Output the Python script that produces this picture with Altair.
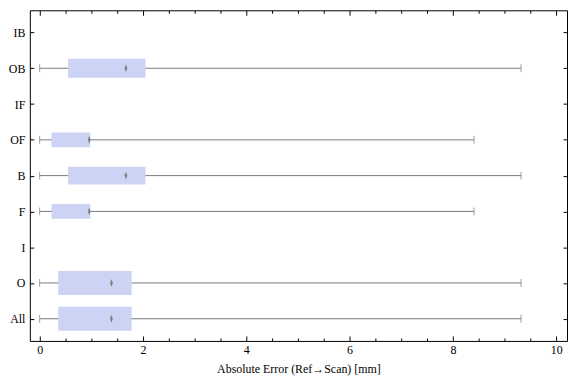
import altair as alt
import pandas as pd

# ---- data ----
categories = ["IB", "OB", "IF", "OF", "B", "F", "I", "O", "All"]
groups     = ["OB", "OF", "B", "F", "O", "All"]
mins       = [0.0, 0.0, 0.0, 0.0, 0.0, 0.0]
q1s        = [0.55, 0.23, 0.55, 0.23, 0.36, 0.36]
medians    = [1.67, 0.96, 1.67, 0.96, 1.39, 1.39]
q3s        = [2.05, 0.98, 2.05, 0.98, 1.78, 1.78]
maxs       = [9.32, 8.41, 9.32, 8.41, 9.32, 9.32]
major_ticks = [0, 2, 4, 6, 8, 10]
minor_ticks = [0.5, 1, 1.5, 2.5, 3, 3.5, 4.5, 5, 5.5, 6.5, 7, 7.5, 8.5, 9, 9.5]

# ---- styling ----
box_thickness = {"OB": 19, "OF": 15, "B": 18, "F": 15, "O": 24, "All": 24}
FONT = "Liberation Serif"
BOX = "#ccd3f5"
GRAY = "#7a7a7a"

df = pd.DataFrame({
    "cat": groups, "lo": mins, "q1": q1s, "med": medians, "q3": q3s, "hi": maxs,
})
df["th"] = df["cat"].map(box_thickness)

xscale = alt.Scale(domain=[-0.19, 10.21], nice=False, zero=False)
yscale = alt.Scale(type="point", domain=categories, padding=0.62)

def xax(**kw):
    base = dict(labels=False, domain=False, grid=False, title=None, tickColor="#000")
    base.update(kw)
    return alt.Axis(**base)

def yax(**kw):
    base = dict(labels=False, domain=False, grid=False, title=None, tickColor="#000")
    base.update(kw)
    return alt.Axis(**base)

base = alt.Chart(df)

whisker = base.mark_rule(color=GRAY, strokeWidth=1).encode(
    x=alt.X("lo:Q", scale=xscale,
            axis=alt.Axis(orient="bottom", values=major_ticks, ticks=False, domain=False,
                          grid=False, labelFont=FONT, labelFontSize=12, labelColor="#000",
                          labelPadding=4, title="Absolute Error (Ref\u2192Scan) [mm]",
                          titleFont=FONT, titleFontSize=12, titleFontWeight="normal",
                          titleColor="#000", titlePadding=8)),
    x2="hi:Q",
    y=alt.Y("cat:N", scale=yscale,
            axis=alt.Axis(orient="left", ticks=False, domain=False, grid=False,
                          labelFont=FONT, labelFontSize=12, labelColor="#000",
                          labelPadding=5, title=None)),
)

box = base.mark_bar(color=BOX).encode(
    x=alt.X("q1:Q", scale=xscale,
            axis=xax(orient="bottom", values=major_ticks, tickSize=5, offset=-5)),
    x2="q3:Q",
    y=alt.Y("cat:N", scale=yscale, axis=yax(orient="left", tickSize=4, offset=-4)),
    size=alt.Size("th:Q", scale=None, legend=None),
)

cap_lo = base.mark_tick(color=GRAY, orient="vertical", size=8, thickness=1).encode(
    x=alt.X("lo:Q", scale=xscale,
            axis=xax(orient="top", values=major_ticks, tickSize=5, offset=-5)),
    y=alt.Y("cat:N", scale=yscale, axis=yax(orient="right", tickSize=4, offset=-4)),
)

cap_hi = base.mark_tick(color=GRAY, orient="vertical", size=8, thickness=1).encode(
    x=alt.X("hi:Q", scale=xscale,
            axis=xax(orient="bottom", values=minor_ticks, tickSize=3, offset=-3)),
    y=alt.Y("cat:N", scale=yscale, axis=yax(orient="left", tickSize=0)),
)

median = base.mark_point(shape="M0,-1L0.35,0L0,1L-0.35,0Z", filled=True, color="#808080",
                         size=64, opacity=1).encode(
    x=alt.X("med:Q", scale=xscale,
            axis=xax(orient="top", values=minor_ticks, tickSize=3, offset=-3)),
    y=alt.Y("cat:N", scale=yscale, axis=yax(orient="right", tickSize=0)),
)

chart = alt.layer(whisker, box, cap_lo, cap_hi, median).resolve_axis(
    x="independent", y="independent"
).properties(
    width=541, height=333, padding={"left": 0, "top": 0, "right": 0, "bottom": 0},
    background="white",
).configure_view(stroke="#000", strokeWidth=1)

chart.save("out.html", embed_options={"renderer": "svg", "actions": False})
